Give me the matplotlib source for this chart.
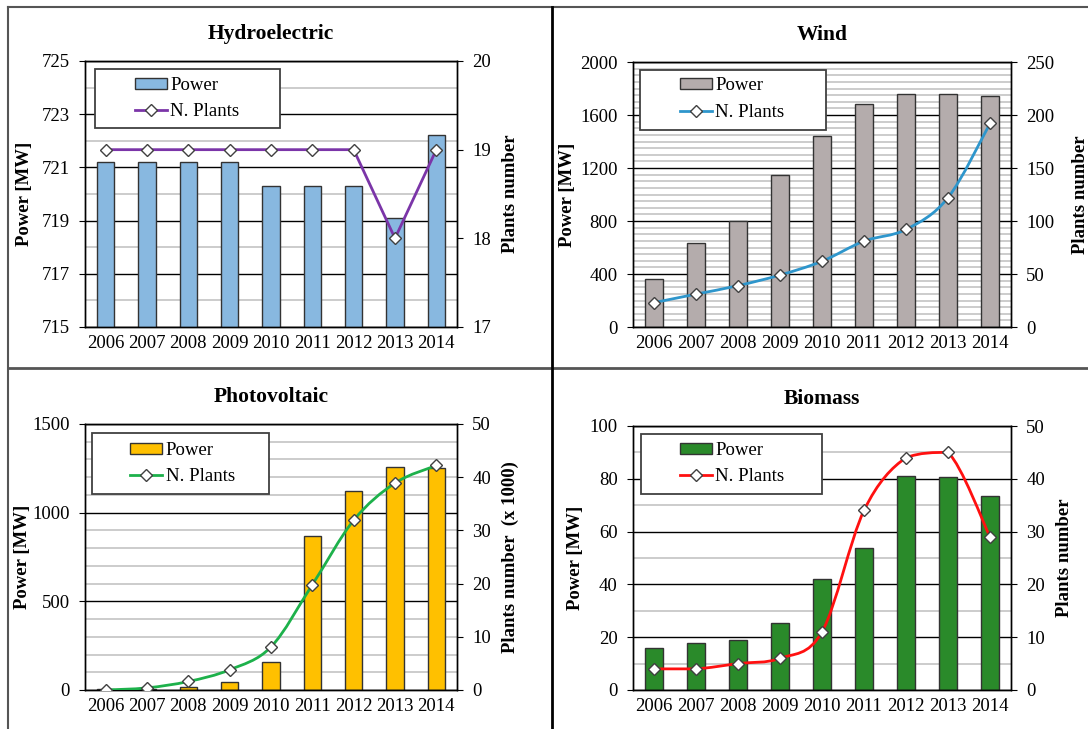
import matplotlib
matplotlib.use('Agg')
import matplotlib.pyplot as plt
from matplotlib.path import Path
from matplotlib.patches import PathPatch, Rectangle, Patch
from matplotlib.lines import Line2D
import numpy as np

plt.rcParams['font.family'] = ['Liberation Serif', 'DejaVu Serif']

years = ['2006', '2007', '2008', '2009', '2010', '2011', '2012', '2013', '2014']

hydro_power = [721.2, 721.2, 721.2, 721.2, 720.3, 720.3, 720.3, 719.1, 722.2]
hydro_plants = [19, 19, 19, 19, 19, 19, 19, 18, 19]

wind_power = [365, 634, 797, 1149, 1439, 1683, 1755, 1755, 1745]
wind_plants = [23, 31, 39, 49, 62, 81, 92, 122, 192]

pv_power = [3, 5, 19, 47, 156, 866, 1124, 1260, 1252]
pv_plants = [0.0, 0.4, 1.6, 3.8, 8.1, 19.8, 31.9, 38.9, 42.2]

bio_power = [15.8, 17.7, 18.9, 25.3, 42.1, 53.8, 81.2, 80.7, 73.3]
bio_plants = [4, 4, 5, 6, 11, 34, 44, 45, 29]

W, H = 1088, 729
fig = plt.figure(figsize=(W / 100, H / 100), dpi=100)


def rect(l, t, r, b):
    return [l / W, 1 - b / H, (r - l) / W, (b - t) / H]


def smooth_path(x, y):
    # bezier through the points, like a "smoothed line"
    p = np.column_stack([x, y]).astype(float)
    n = len(p)
    verts = [p[0]]
    codes = [Path.MOVETO]
    for i in range(n - 1):
        p0 = p[i - 1] if i > 0 else p[i]
        p3 = p[i + 2] if i + 2 < n else p[i + 1]
        c1 = p[i] + (p[i + 1] - p0) / 6
        c2 = p[i + 1] - (p3 - p[i]) / 6
        lo, hi = sorted([p[i][1], p[i + 1][1]])
        c1[1] = min(max(c1[1], lo), hi)
        c2[1] = min(max(c2[1], lo), hi)
        verts += [c1, c2, p[i + 1]]
        codes += [Path.CURVE4] * 3
    return Path(verts, codes)


def panel(box, title, power, plants, bar_color, line_color,
          ylim, ystep, yminor, y2lim, y2step, y2label,
          legbox, smooth=True, lpad=4, rpad=6):
    ax = fig.add_axes(rect(*box))
    ax2 = ax.twinx()
    x = np.arange(len(years))
    ax.bar(x, power, width=0.42, color=bar_color, edgecolor='#333333',
           linewidth=1, zorder=2)
    ax.set_xlim(-0.5, len(years) - 0.5)
    ax.set_ylim(*ylim)
    ax.set_yticks(np.arange(ylim[0], ylim[1] + ystep / 2, ystep))
    ax.set_yticks(np.arange(ylim[0], ylim[1], yminor), minor=True)
    ax.grid(True, which='minor', axis='y', color='#C8C8C8', linewidth=1.3)
    ax.grid(True, which='major', axis='y', color='black', linewidth=1)
    ax.set_axisbelow(True)
    ax.set_xticks(x)
    ax.set_xticklabels(years)
    ax.tick_params(axis='x', length=0, pad=6, labelsize=13.5)
    ax.tick_params(axis='y', which='major', length=4, direction='out',
                   pad=7, labelsize=13.5)
    ax.tick_params(axis='y', which='minor', length=0)
    ax.set_ylabel('Power [MW]', fontsize=13.5, fontweight='bold',
                  labelpad=lpad)
    ax.set_title(title, fontsize=15.5, fontweight='bold', pad=16)

    ax2.set_ylim(*y2lim)
    ax2.set_yticks(np.arange(y2lim[0], y2lim[1] + y2step / 2, y2step))
    ax2.tick_params(axis='y', length=4, direction='out', pad=7,
                    labelsize=13.5)
    ax2.set_ylabel(y2label, fontsize=13.5, fontweight='bold', labelpad=rpad)
    for a in (ax, ax2):
        for s in a.spines.values():
            s.set_color('black')
            s.set_linewidth(1)

    if smooth:
        ax2.add_patch(PathPatch(smooth_path(x, plants), fill=False,
                                edgecolor=line_color, linewidth=2, zorder=3))
    else:
        ax2.plot(x, plants, color=line_color, linewidth=2, zorder=3)
    ax2.plot(x, plants, linestyle='none', marker='D', markersize=6.5,
             markerfacecolor='white', markeredgecolor='#404040',
             markeredgewidth=1, zorder=4)

    # legend box
    bx0, by0, bx1, by1, hx, hy = legbox
    ax2.add_patch(Rectangle((bx0, by0), bx1 - bx0, by1 - by0,
                            transform=ax2.transAxes, facecolor='white',
                            edgecolor='#404040', linewidth=1.3, zorder=8))
    handles = [Patch(facecolor=bar_color, edgecolor='#333333', linewidth=1),
               Line2D([], [], color=line_color, linewidth=2, marker='D',
                      markersize=6.5, markerfacecolor='white',
                      markeredgecolor='#404040', markeredgewidth=1)]
    leg = ax2.legend(handles, ['Power', 'N. Plants'], loc='center left',
                     bbox_to_anchor=(hx, hy), frameon=False, fontsize=13.5,
                     handlelength=1.7, handleheight=0.55, handletextpad=0.2,
                     labelspacing=0.5, borderpad=0, borderaxespad=0)
    leg.set_zorder(9)
    return ax, ax2


panel((85, 61, 457, 327), 'Hydroelectric', hydro_power, hydro_plants,
      '#88B8E0', '#7B35A8', (715, 725), 2, 1, (17, 20), 1, 'Plants number',
      (0.027, 0.748, 0.524, 0.97, 0.134, 0.859), smooth=False, lpad=6, rpad=8)

panel((633, 62, 1011, 327), 'Wind', wind_power, wind_plants,
      '#B4ACAC', '#2E96CC', (0, 2000), 400, 50, (0, 250), 50, 'Plants number',
      (0.0185, 0.745, 0.511, 0.97, 0.124, 0.860), lpad=3, rpad=13)

panel((85, 424, 457, 690), 'Photovoltaic', pv_power, pv_plants,
      '#FFC000', '#1DB14B', (0, 1500), 500, 100, (0, 50), 10,
      'Plants number  (x 1000)',
      (0.019, 0.737, 0.495, 0.966, 0.121, 0.851), lpad=1, rpad=8)

panel((633, 426, 1011, 690), 'Biomass', bio_power, bio_plants,
      '#2A8A2A', '#FF1010', (0, 100), 20, 10, (0, 50), 10, 'Plants number',
      (0.021, 0.742, 0.50, 0.97, 0.124, 0.858), lpad=4, rpad=8)

# panel frames
fig.add_artist(Line2D([8 / W, 1], [1 - 7 / H, 1 - 7 / H], color='#555555',
                      linewidth=1.5, transform=fig.transFigure))
fig.add_artist(Line2D([8 / W, 8 / W], [1 - 7 / H, 0], color='#555555',
                      linewidth=1.5, transform=fig.transFigure))
fig.add_artist(Line2D([8 / W, 1], [1 - 368 / H, 1 - 368 / H], color='#555555',
                      linewidth=2, transform=fig.transFigure))
fig.add_artist(Line2D([552 / W, 552 / W], [1 - 7 / H, 0], color='black',
                      linewidth=2, transform=fig.transFigure))

fig.savefig('out.png', dpi=100)
